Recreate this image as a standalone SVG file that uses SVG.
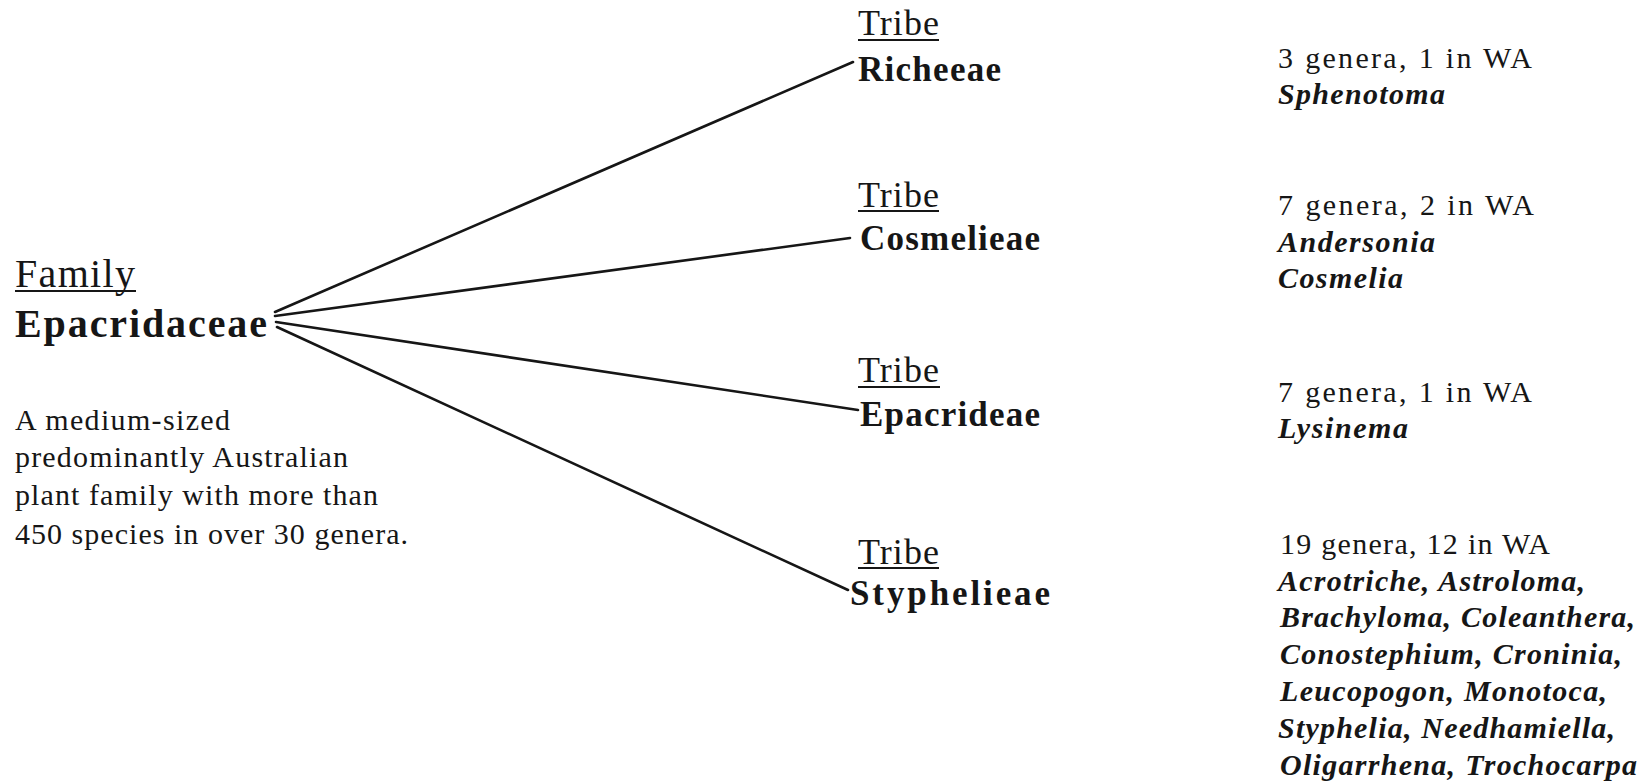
<svg xmlns="http://www.w3.org/2000/svg" width="1644" height="783" viewBox="0 0 1644 783">
<style>
text{font-family:"Liberation Serif","Times New Roman",serif;fill:#161616}
.lab{font-size:40px}
.tribe{font-size:36px}
.bold{font-weight:bold}
.fam{font-size:40px;font-weight:bold}
.tname{font-size:35px;font-weight:bold}
.body{font-size:30px}
.gen{font-size:30px;font-weight:bold;font-style:italic}
.ul{stroke:#161616;stroke-width:2}
.conn{stroke:#161616;stroke-width:2.6;fill:none;stroke-linecap:round}
</style>
<rect width="1644" height="783" fill="#ffffff"/>
<g id="family">
<text class="lab" x="15" y="287" textLength="120" lengthAdjust="spacing">Family</text>
<line class="ul" x1="15" y1="291" x2="136" y2="291"/>
<text class="fam" x="15" y="337" textLength="252" lengthAdjust="spacing">Epacridaceae</text>
<text class="body" x="15" y="430" textLength="215" lengthAdjust="spacing">A medium-sized</text>
<text class="body" x="15" y="467" textLength="333" lengthAdjust="spacing">predominantly Australian</text>
<text class="body" x="15" y="505" textLength="363" lengthAdjust="spacing">plant family with more than</text>
<text class="body" x="15" y="544" textLength="393" lengthAdjust="spacing">450 species in over 30 genera.</text>
</g>
<g id="connectors">
<line class="conn" x1="275" y1="312" x2="853" y2="62"/>
<line class="conn" x1="275" y1="316" x2="850" y2="238"/>
<line class="conn" x1="276" y1="322" x2="858" y2="410"/>
<line class="conn" x1="277" y1="327" x2="848" y2="590"/>
</g>
<g id="tribe-richeeae">
<text class="tribe" x="858" y="35" textLength="81" lengthAdjust="spacing">Tribe</text>
<line class="ul" x1="858" y1="40" x2="939" y2="40"/>
<text class="tname" x="858" y="81" textLength="143" lengthAdjust="spacing">Richeeae</text>
</g>
<g id="tribe-cosmelieae">
<text class="tribe" x="858" y="207" textLength="81" lengthAdjust="spacing">Tribe</text>
<line class="ul" x1="858" y1="211" x2="939" y2="211"/>
<text class="tname" x="860" y="250" textLength="180" lengthAdjust="spacing">Cosmelieae</text>
</g>
<g id="tribe-epacrideae">
<text class="tribe" x="858" y="382" textLength="81" lengthAdjust="spacing">Tribe</text>
<line class="ul" x1="858" y1="387" x2="940" y2="387"/>
<text class="tname" x="860" y="426" textLength="180" lengthAdjust="spacing">Epacrideae</text>
</g>
<g id="tribe-styphelieae">
<text class="tribe" x="858" y="564" textLength="81" lengthAdjust="spacing">Tribe</text>
<line class="ul" x1="858" y1="568" x2="939" y2="568"/>
<text class="tname" x="850" y="605" textLength="200" lengthAdjust="spacing">Styphelieae</text>
</g>
<g id="info-richeeae">
<text class="body" x="1278" y="68" textLength="254" lengthAdjust="spacing">3 genera, 1 in WA</text>
<text class="gen" x="1278" y="104" textLength="167" lengthAdjust="spacing">Sphenotoma</text>
</g>
<g id="info-cosmelieae">
<text class="body" x="1278" y="215" textLength="256" lengthAdjust="spacing">7 genera, 2 in WA</text>
<text class="gen" x="1278" y="252" textLength="157" lengthAdjust="spacing">Andersonia</text>
<text class="gen" x="1278" y="288" textLength="125" lengthAdjust="spacing">Cosmelia</text>
</g>
<g id="info-epacrideae">
<text class="body" x="1278" y="402" textLength="254" lengthAdjust="spacing">7 genera, 1 in WA</text>
<text class="gen" x="1278" y="438" textLength="130" lengthAdjust="spacing">Lysinema</text>
</g>
<g id="info-styphelieae">
<text class="body" x="1280" y="554" textLength="270" lengthAdjust="spacing">19 genera, 12 in WA</text>
<text class="gen" x="1278" y="591" textLength="307" lengthAdjust="spacing">Acrotriche, Astroloma,</text>
<text class="gen" x="1280" y="627" textLength="355" lengthAdjust="spacing">Brachyloma, Coleanthera,</text>
<text class="gen" x="1280" y="664" textLength="342" lengthAdjust="spacing">Conostephium, Croninia,</text>
<text class="gen" x="1280" y="701" textLength="327" lengthAdjust="spacing">Leucopogon, Monotoca,</text>
<text class="gen" x="1278" y="738" textLength="337" lengthAdjust="spacing">Styphelia, Needhamiella,</text>
<text class="gen" x="1280" y="775" textLength="357" lengthAdjust="spacing">Oligarrhena, Trochocarpa</text>
</g>
</svg>
